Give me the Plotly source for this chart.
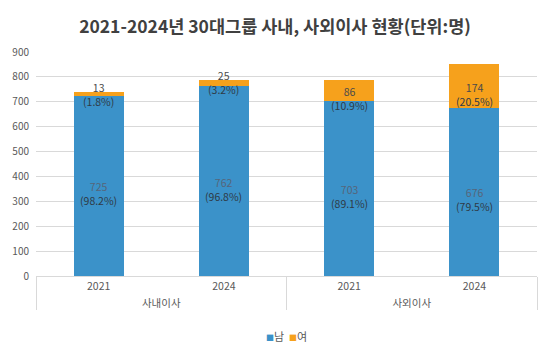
import plotly.graph_objects as go

groups = ["사내이사", "사내이사", "사외이사", "사외이사"]
years = ["2021", "2024", "2021", "2024"]
male = [725, 762, 703, 676]
female = [13, 25, 86, 174]
male_pct = ["98.2%", "96.8%", "89.1%", "79.5%"]
female_pct = ["1.8%", "3.2%", "10.9%", "20.5%"]
series_names = ["남", "여"]

BLUE = "#3b92c9"
ORANGE = "#f6a11c"
FONT = "Noto Sans CJK KR"

x = [groups, years]
fig = go.Figure()
fig.add_trace(go.Bar(x=x, y=male, name=series_names[0], marker=dict(color=BLUE, line=dict(width=0))))
fig.add_trace(go.Bar(x=x, y=female, name=series_names[1], marker=dict(color=ORANGE, line=dict(width=0))))

ann = []
for i in range(4):
    ann.append(dict(x=i, y=male[i] / 2, xref="x", yref="y",
                    text=f"<span style='color:#56657a'>{male[i]}</span><br>({male_pct[i]})",
                    showarrow=False, yshift=-8, font=dict(size=10.5, color="#2f3a46", family=FONT)))
    if female[i] < 50:
        yc = male[i] + female[i]
        ys = -2
    else:
        yc = male[i] + female[i] / 2
        ys = -8
    ann.append(dict(x=i, y=yc, xref="x", yref="y",
                    text=f"<span style='color:#4a4a4a'>{female[i]}</span><br>({female_pct[i]})",
                    showarrow=False, yshift=ys, font=dict(size=10.5, color="#2f3a46", family=FONT)))

# compact legend drawn as text
ann.append(dict(x=0.5, y=-0.225, xref="paper", yref="paper", xanchor="center", yanchor="top",
                text=f"<span style='color:{BLUE};font-size:8px'>■</span>{series_names[0]}&nbsp;&nbsp;"
                     f"<span style='color:{ORANGE};font-size:8px'>■</span>{series_names[1]}",
                showarrow=False, font=dict(size=11, color="#595959", family=FONT)))

fig.update_layout(
    barmode="stack",
    bargap=0.6,
    width=550, height=353,
    margin=dict(l=36, r=13, t=52, b=77),
    paper_bgcolor="white", plot_bgcolor="white",
    font=dict(family=FONT, color="#595959", size=10),
    showlegend=False,
    title=dict(text="<b>2021-2024년 30대그룹 사내, 사외이사 현황(단위:명)</b>",
               x=0.5, xanchor="center", y=0.925, yanchor="middle",
               font=dict(size=17.5, color="#404040", family=FONT)),
    annotations=ann,
    yaxis=dict(range=[0, 900], dtick=100, gridcolor="#d9d9d9", gridwidth=1,
               showline=False, zeroline=False, tickfont=dict(size=10, color="#595959"),
               ticks="", ticklabelstandoff=6, automargin=False),
    xaxis=dict(type="multicategory", showline=True, linecolor="#d9d9d9",
               showdividers=True, dividercolor="#d9d9d9", dividerwidth=1,
               tickfont=dict(size=10.5, color="#595959"), ticks="", automargin=False),
)

for a, i in zip(fig.layout.annotations, [j for j in range(4) for _ in range(2)]):
    a.x = i

fig.write_html("out.html")
